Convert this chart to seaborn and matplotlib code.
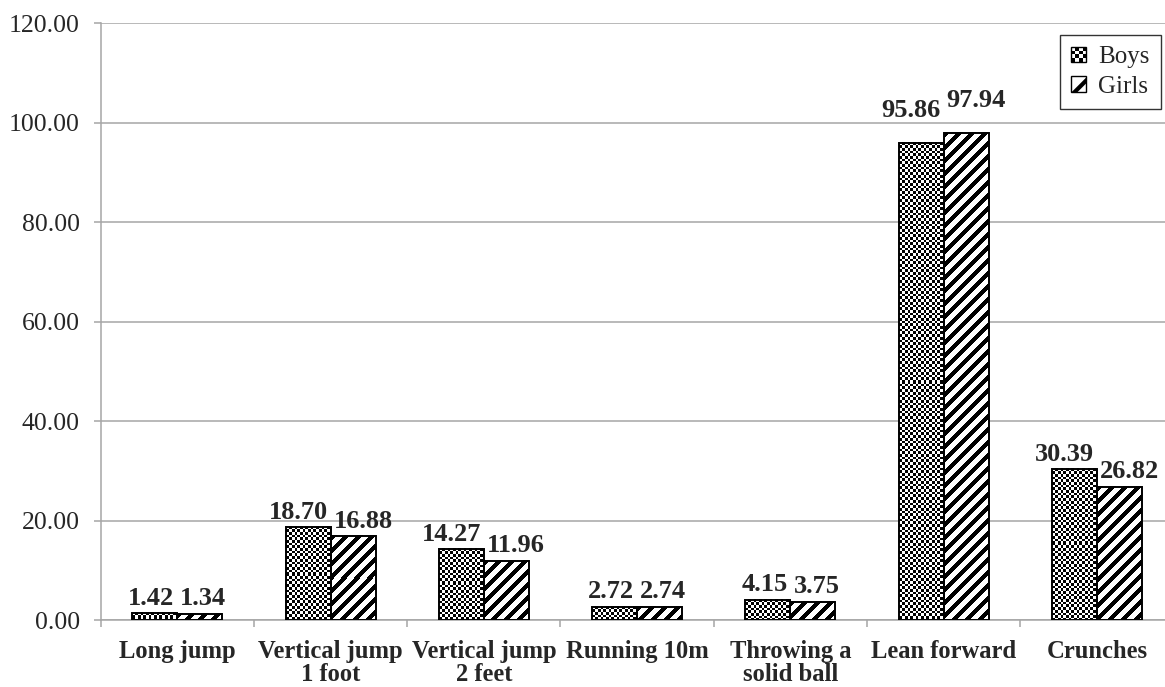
import matplotlib
matplotlib.use("Agg")
import matplotlib.pyplot as plt
import seaborn as sns
import numpy as np
import pandas as pd
from matplotlib.patches import Patch, Rectangle
from matplotlib.colors import ListedColormap
from matplotlib.legend_handler import HandlerBase

categories = ["Long jump", "Vertical jump\n1 foot", "Vertical jump\n2 feet",
              "Running 10m", "Throwing a\nsolid ball", "Lean forward", "Crunches"]
boys = [1.42, 18.70, 14.27, 2.72, 4.15, 95.86, 30.39]
girls = [1.34, 16.88, 11.96, 2.74, 3.75, 97.94, 26.82]
yticks = [0, 20, 40, 60, 80, 100, 120]
groups = ["Boys", "Girls"]

df = pd.DataFrame({
    "Test": categories * 2,
    "Value": boys + girls,
    "Group": ["Boys"] * len(boys) + ["Girls"] * len(girls),
})

sns.set_style("white")
plt.rcParams["font.family"] = ["Liberation Serif", "DejaVu Serif"]
plt.rcParams["hatch.linewidth"] = 3.0

GRID = "#A6A6A6"

fig = plt.figure(figsize=(11.65, 6.87), dpi=100)
ax = fig.add_axes([0.0864, 0.0968, 0.921, 0.8697])

sns.barplot(data=df, x="Test", y="Value", hue="Group", order=categories,
            hue_order=groups, palette=["white", "white"], width=0.587,
            edgecolor="black", linewidth=1.4, ax=ax, legend=False, zorder=3)

ax.set_ylim(0, 120)
ax.set_xlim(-0.5, len(categories) - 0.5)


def checker(h, w, cell=2.7):
    r, c = np.mgrid[0:h, 0:w]
    return ((np.floor(r / cell) + np.floor(c / cell)) % 2).astype(float)


def stripes(h, w, period=13, thick=6):
    r, c = np.mgrid[0:h, 0:w]
    return (((c + r) % period) < thick).astype(float)


fills = {"Boys": checker, "Girls": stripes}
bw = ListedColormap(["white", "black"])

# Fill each bar with its texture, sized to the bar's pixel extent
for cont, name in zip(ax.containers, groups):
    for bar in cont:
        x0, w, h = bar.get_x(), bar.get_width(), bar.get_height()
        (px0, py0), (px1, py1) = ax.transData.transform([(x0, 0), (x0 + w, h)])
        npx_w = max(int(round(px1 - px0)), 1)
        npx_h = max(int(round(py1 - py0)), 1)
        tex = fills[name](npx_h, npx_w)
        ax.imshow(tex, cmap=bw, vmin=0, vmax=1, extent=[x0, x0 + w, 0, h],
                  aspect="auto", interpolation="nearest", zorder=2.5)
        bar.set_facecolor("none")

ax.set_ylim(0, 120)
ax.set_xlim(-0.5, len(categories) - 0.5)
ax.set_aspect("auto")

ax.set_yticks(yticks)
ax.set_yticklabels([f"{v:.2f}" for v in yticks], fontsize=18.5)
ax.set_xticks(range(len(categories)))
ax.set_xticklabels(categories, fontsize=17.7, fontweight="bold",
                   linespacing=1.0)
ax.tick_params(axis="x", length=0, pad=14)
ax.tick_params(axis="y", length=5, color=GRID, width=1.1, left=True, pad=10)
ax.set_xticks([i + 0.5 for i in range(-1, len(categories))], minor=True)
ax.tick_params(axis="x", which="minor", length=5, color=GRID, width=1.1,
               bottom=True)

ax.yaxis.grid(True, color=GRID, linewidth=1.1)
ax.set_axisbelow(True)
for side in ["top", "right"]:
    ax.spines[side].set_visible(False)
for side in ["left", "bottom"]:
    ax.spines[side].set_color(GRID)
    ax.spines[side].set_linewidth(1.1)
ax.set_xlabel("")
ax.set_ylabel("")

# Value labels; Lean forward labels sit higher above their bars
lean = categories.index("Lean forward")
all_labels = []
for cont in ax.containers:
    labels = ax.bar_label(cont, fmt="%.2f", padding=2.5, fontsize=19,
                          fontweight="bold", clip_on=False)
    labels[lean].xyann = (0, 15)
    all_labels.append(labels)

# Nudge paired labels apart so wide numbers do not collide
fig.canvas.draw()
renderer = fig.canvas.get_renderer()
for cont, labels, sign in zip(ax.containers, all_labels, [-1, 1]):
    for bar, lab in zip(cont, labels):
        tw = lab.get_window_extent(renderer).width
        bpx = bar.get_window_extent(renderer).width
        shift_px = max(0.0, (tw - bpx) / 2) + 3
        lab.xyann = (sign * shift_px * 72 / fig.dpi, lab.xyann[1])


class CheckerHandler(HandlerBase):
    def create_artists(self, legend, orig_handle, xdescent, ydescent,
                       width, height, fontsize, trans):
        n = 4
        arts = []
        for i in range(n):
            for j in range(n):
                arts.append(Rectangle(
                    (-xdescent + i * width / n, -ydescent + j * height / n),
                    width / n, height / n,
                    facecolor="black" if (i + j) % 2 == 0 else "white",
                    edgecolor="none", transform=trans))
        arts.append(Rectangle((-xdescent, -ydescent), width, height,
                              facecolor="none", edgecolor="black", lw=1.0,
                              transform=trans))
        return arts


boys_handle = Patch(facecolor="white", edgecolor="black", label="Boys")
girls_handle = Patch(facecolor="white", edgecolor="black", hatch="/",
                     label="Girls")
leg = ax.legend(handles=[boys_handle, girls_handle],
                handler_map={boys_handle: CheckerHandler()},
                loc="upper right", bbox_to_anchor=(0.9966, 0.949),
                bbox_transform=fig.transFigure, fontsize=18,
                frameon=True, fancybox=False, edgecolor="black",
                handlelength=0.6, handleheight=0.6, handletextpad=0.48,
                borderpad=0.45, labelspacing=0.3, borderaxespad=0)
leg.get_frame().set_linewidth(1.0)

fig.savefig("out.png", dpi=100)
